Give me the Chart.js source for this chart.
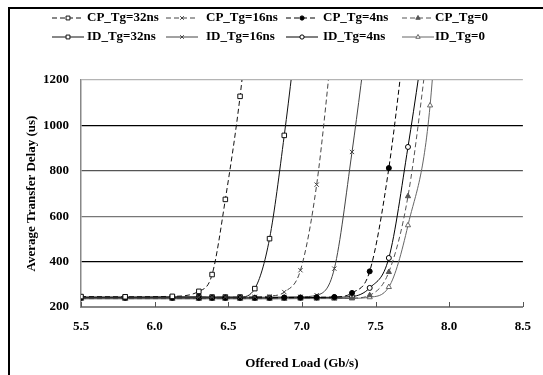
<!DOCTYPE html>
<html>
<head>
<meta charset="utf-8">
<script src="https://cdn.jsdelivr.net/npm/chart.js@4.4.0/dist/chart.umd.min.js"></script>
<style>
  html, body { margin: 0; padding: 0; background: #fff; }
</style>
</head>
<body>
<canvas id="delayChart" width="543" height="375"></canvas>
<script>
// offered load (Gb/s) at each simulated point
const loads = [5.5, 5.8, 6.12, 6.3, 6.39, 6.48, 6.58, 6.68, 6.78, 6.88, 6.99, 7.1, 7.22, 7.34, 7.46, 7.59, 7.72, 7.87, 8.0];

// average transfer delay (us), one array per curve, aligned with loads
const cp32 = [246, 245, 247, 269, 343, 674, 1128, 1750];
const cp16 = [243, 243, 243, 243, 243, 244, 244, 245, 248, 266, 362, 739, 1450];
const cp4  = [241, 241, 241, 241, 241, 241, 241, 241, 241, 242, 242, 243, 244, 262, 357, 812, 1500];
const cp0  = [237, 237, 237, 237, 237, 237, 237, 237, 237, 237, 238, 238, 238, 239, 252, 354, 688, 1420];
const id32 = [244, 244, 245, 245, 244, 244, 244, 281, 501, 956, 1550];
const id16 = [242, 242, 242, 242, 242, 242, 242, 243, 243, 244, 245, 252, 369, 883, 1480];
const id4  = [240, 240, 240, 240, 240, 240, 240, 240, 240, 241, 241, 242, 243, 246, 284, 416, 905, 1560];
const id0  = [236, 236, 236, 236, 236, 236, 236, 236, 236, 236, 237, 237, 237, 238, 243, 288, 560, 1088, 2400];

const seriesLabels = ['CP_Tg=32ns', 'CP_Tg=16ns', 'CP_Tg=4ns', 'CP_Tg=0', 'ID_Tg=32ns', 'ID_Tg=16ns', 'ID_Tg=4ns', 'ID_Tg=0'];
const xTicks = [5.5, 6.0, 6.5, 7.0, 7.5, 8.0, 8.5];
const yTicks = [200, 400, 600, 800, 1000, 1200];

const FONT = '"Liberation Serif", "Times New Roman", serif';

function toPoints(values) {
  return values.map((v, i) => ({ x: loads[i], y: v }));
}

function makeSeries(label, values, dashed, color, style, fill, radius) {
  return {
    label: label,
    data: toPoints(values),
    borderColor: color,
    borderWidth: 1,
    borderDash: dashed ? [5, 3] : [],
    pointStyle: style,
    pointRadius: radius,
    pointBorderWidth: 1,
    pointBorderColor: color,
    pointBackgroundColor: fill,
    cubicInterpolationMode: 'monotone',
    fill: false
  };
}

const datasets = [
  makeSeries(seriesLabels[0], cp32, true, '#111', 'rect', '#fff', 3.2),
  makeSeries(seriesLabels[1], cp16, true, '#444', 'crossRot', '#444', 3),
  makeSeries(seriesLabels[2], cp4, true, '#000', 'circle', '#000', 2.5),
  makeSeries(seriesLabels[3], cp0, true, '#555', 'triangle', '#555', 3),
  makeSeries(seriesLabels[4], id32, false, '#111', 'rect', '#fff', 3.2),
  makeSeries(seriesLabels[5], id16, false, '#444', 'crossRot', '#444', 3),
  makeSeries(seriesLabels[6], id4, false, '#000', 'circle', '#fff', 2.5),
  makeSeries(seriesLabels[7], id0, false, '#666', 'triangle', '#fff', 3)
];

// gridline colours as in the original figure
const gridColors = { 200: 'rgba(0,0,0,0)', 400: '#000', 600: '#777', 800: '#555', 1000: '#000', 1200: '#b4b4b4' };

// outer frame + inside tick marks on the x axis
const framePlugin = {
  id: 'frame',
  beforeDraw(chart) {
    const ctx = chart.ctx;
    ctx.save();
    ctx.fillStyle = '#fff';
    ctx.fillRect(0, 0, chart.width, chart.height);
    ctx.strokeStyle = '#000';
    ctx.lineWidth = 2;
    ctx.beginPath();
    ctx.moveTo(9, chart.height);
    ctx.lineTo(9, 8);
    ctx.lineTo(chart.width, 8);
    ctx.stroke();
    ctx.restore();
  },
  afterDraw(chart) {
    const ctx = chart.ctx;
    const xs = chart.scales.x;
    ctx.save();
    ctx.strokeStyle = '#555';
    ctx.lineWidth = 1;
    xs.ticks.forEach(t => {
      const px = Math.round(xs.getPixelForValue(t.value)) + 0.5;
      ctx.beginPath();
      ctx.moveTo(px, xs.top);
      ctx.lineTo(px, xs.top - 5);
      ctx.stroke();
    });
    ctx.restore();
  }
};

// two-row legend with line samples, drawn like the Excel one
const legendPlugin = {
  id: 'rowLegend',
  afterDraw(chart) {
    const ctx = chart.ctx;
    const cols = [52, 166, 286, 402];
    const textX = [87, 206, 323, 435];
    const rows = [18, 37];
    chart.data.datasets.forEach((ds, i) => {
      const c = i % 4;
      const y = rows[Math.floor(i / 4)];
      ctx.save();
      ctx.strokeStyle = ds.borderColor;
      ctx.lineWidth = 1;
      ctx.setLineDash(ds.borderDash);
      ctx.beginPath();
      ctx.moveTo(cols[c], y);
      ctx.lineTo(cols[c] + 32, y);
      ctx.stroke();
      ctx.setLineDash([]);
      ctx.strokeStyle = ds.pointBorderColor;
      ctx.fillStyle = ds.pointBackgroundColor;
      Chart.helpers.drawPoint(ctx, { pointStyle: ds.pointStyle, radius: ds.pointRadius * 0.85, borderWidth: 1, rotation: 0 }, cols[c] + 16, y);
      ctx.fillStyle = '#000';
      ctx.font = 'bold 13px ' + FONT;
      ctx.textBaseline = 'middle';
      ctx.fillText(ds.label, textX[c], y);
      ctx.restore();
    });
  }
};

const ctx = document.getElementById('delayChart').getContext('2d');
const chart = new Chart(ctx, {
  type: 'line',
  data: { datasets: datasets },
  options: {
    responsive: false,
    animation: false,
    layout: { padding: { top: 80, right: 15, left: 0, bottom: 0 } },
    plugins: {
      legend: { display: false },
      tooltip: { enabled: false }
    },
    scales: {
      x: {
        type: 'linear',
        min: 5.5,
        max: 8.5,
        afterBuildTicks: axis => { axis.ticks = xTicks.map(v => ({ value: v })); },
        afterFit: axis => { axis.height = 68; },
        grid: { display: false, drawTicks: false },
        border: { display: true, color: '#888', width: 2 },
        ticks: {
          color: '#000',
          padding: 12,
          font: { family: FONT, size: 13, weight: 'bold' },
          callback: v => v.toFixed(1)
        },
        title: {
          display: true,
          text: 'Offered Load (Gb/s)',
          color: '#000',
          font: { family: FONT, size: 13, weight: 'bold' },
          padding: { top: 12 }
        }
      },
      y: {
        min: 200,
        max: 1200,
        afterBuildTicks: axis => { axis.ticks = yTicks.map(v => ({ value: v })); },
        afterFit: axis => { axis.width = 81; },
        grid: {
          drawTicks: false,
          color: c => gridColors[c.tick.value] || '#000',
          lineWidth: 1.3
        },
        border: { display: true, color: '#888', width: 1.5 },
        ticks: {
          color: '#000',
          padding: 12,
          font: { family: FONT, size: 13, weight: 'bold' },
          callback: v => String(v)
        },
        title: {
          display: true,
          text: 'Average Transfer Delay (us)',
          color: '#000',
          font: { family: FONT, size: 13, weight: 'bold' },
          padding: { top: 24, bottom: 0 }
        }
      }
    }
  },
  plugins: [framePlugin, legendPlugin]
});
</script>
</body>
</html>
